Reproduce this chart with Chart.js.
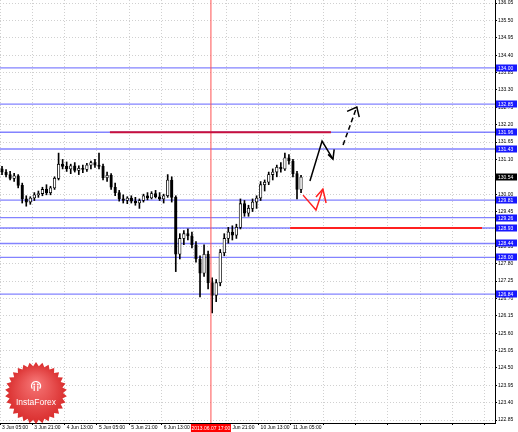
<!DOCTYPE html>
<html>
<head>
<meta charset="utf-8">
<script src="https://cdn.jsdelivr.net/npm/chart.js@4.4.1/dist/chart.umd.min.js"></script>
<style>
html, body { margin: 0; padding: 0; background: #fff; }
</style>
</head>
<body>
<canvas id="grafico" width="518" height="432"></canvas>
<script>
// velas (2h), 3 Jun -> 11 Jun
const abertura = [
  130.80, 130.70, 130.62, 130.50, 130.58, 130.28, 129.85, 129.75, 129.88, 129.98,
  130.02, 130.15, 130.05, 130.20, 130.50, 130.95, 130.88, 130.80, 130.90, 130.75,
  130.82, 130.78, 130.92, 131.00, 130.92, 130.88, 130.52, 130.60, 130.22, 130.05,
  129.85, 129.80, 129.88, 129.78, 129.72, 129.80, 129.95, 129.88, 130.02, 129.92,
  129.85, 129.95, 130.45, 129.90, 128.10, 128.60, 128.75, 128.68, 128.40, 127.95,
  127.50, 128.10, 127.20, 126.80, 127.20, 128.15, 128.60, 128.80, 128.70, 128.95,
  129.70, 129.40, 129.55, 129.75, 129.88, 130.30, 130.38, 130.62, 130.70, 130.85,
  130.80, 131.15, 131.05, 130.65, 130.15
];
const maxima = [
  130.88, 130.78, 130.72, 130.66, 130.62, 130.35, 129.95, 129.92, 130.05, 130.10,
  130.22, 130.30, 130.25, 130.55, 131.30, 131.10, 131.02, 130.95, 131.00, 130.90,
  130.92, 130.98, 131.05, 131.10, 131.30, 130.95, 130.70, 130.65, 130.35, 130.12,
  129.98, 129.92, 129.95, 129.90, 129.85, 130.00, 130.05, 130.08, 130.12, 130.05,
  130.00, 130.62, 130.55, 129.95, 128.75, 128.85, 128.90, 128.80, 128.50, 128.05,
  128.40, 128.20, 127.35, 127.30, 128.25, 128.75, 128.95, 129.00, 129.05, 129.85,
  129.80, 129.65, 129.85, 129.95, 130.40, 130.45, 130.70, 130.80, 130.92, 131.00,
  131.30, 131.25, 131.10, 130.72, 130.60
];
const minimas = [
  130.62, 130.55, 130.45, 130.40, 130.20, 129.72, 129.62, 129.68, 129.80, 129.90,
  129.95, 129.98, 129.98, 130.15, 130.45, 130.80, 130.72, 130.65, 130.70, 130.62,
  130.68, 130.72, 130.80, 130.85, 130.80, 130.45, 130.40, 130.15, 129.95, 129.78,
  129.72, 129.70, 129.72, 129.65, 129.55, 129.75, 129.82, 129.85, 129.88, 129.80,
  129.72, 129.90, 129.75, 127.55, 127.95, 128.40, 128.55, 128.30, 127.85, 126.75,
  127.40, 127.00, 126.24, 126.60, 127.10, 128.05, 128.45, 128.55, 128.60, 128.90,
  129.30, 129.30, 129.45, 129.55, 129.80, 130.10, 130.30, 130.45, 130.55, 130.70,
  130.75, 130.95, 130.55, 129.85, 130.05
];
const fechamento = [
  130.70, 130.62, 130.50, 130.58, 130.28, 129.85, 129.75, 129.88, 129.98, 130.02,
  130.15, 130.05, 130.20, 130.50, 130.95, 130.88, 130.80, 130.90, 130.75, 130.82,
  130.78, 130.92, 131.00, 130.92, 130.88, 130.52, 130.60, 130.22, 130.05, 129.85,
  129.80, 129.88, 129.78, 129.72, 129.80, 129.95, 129.88, 130.02, 129.92, 129.85,
  129.95, 130.45, 129.90, 128.10, 128.60, 128.75, 128.68, 128.40, 127.95, 127.50,
  128.10, 127.20, 126.80, 127.20, 128.15, 128.60, 128.80, 128.70, 128.95, 129.70,
  129.40, 129.55, 129.75, 129.88, 130.30, 130.38, 130.62, 130.70, 130.85, 130.80,
  131.15, 131.05, 130.65, 130.15, 130.54
];

const rotulosTempo = ['3 Jun 05:00', '3 Jun 21:00', '4 Jun 13:00', '5 Jun 05:00', '5 Jun 21:00',
  '6 Jun 13:00', '7 Jun 05:00', '7 Jun 21:00', '10 Jun 13:00', '11 Jun 05:00'];
const posTempo = [-0.5, 7.5, 15.5, 23.5, 31.5, 39.5, 47.5, 55.5, 63.5, 71.5, 79.5, 87.5, 95.5, 103.5, 111.5, 119.5];
const ticksPreco = [122.85, 123.40, 123.95, 124.50, 125.05, 125.60, 126.15, 126.70, 127.25, 127.80,
  128.35, 128.90, 129.45, 130.00, 130.55, 131.10, 131.65, 132.20, 132.75, 133.30,
  133.85, 134.40, 134.95, 135.50, 136.05];

const niveis = [134.00, 132.85, 131.96, 131.43, 129.81, 129.26, 128.93, 128.44, 128.00, 126.84];
const precoAtual = 130.54;
const marcaX = 51.7;
const marcaTexto = '2013.06.07 17:00';

// linhas e setas desenhadas no grafico
const linhaResist = [{x: 26.7, y: 131.96}, {x: 81.4, y: 131.96}];
const linhaSuporte = [{x: 71.3, y: 128.93}, {x: 118.8, y: 128.93}];
const setaPreta = [{x: 76.2, y: 130.42}, {x: 79.2, y: 131.68}, {x: 81.9, y: 131.11}];
const setaPretaPonta = [{x: 80.7, y: 131.26}, {x: 81.9, y: 131.11}, {x: 82.2, y: 131.42}];
const setaTracejada = [{x: 84.4, y: 131.56}, {x: 87.8, y: 132.76}];
const setaTracejadaPonta = [{x: 85.4, y: 132.62}, {x: 87.8, y: 132.76}, {x: 88.4, y: 132.44}];
const setaVermelha = [{x: 74.5, y: 129.97}, {x: 77.7, y: 129.50}, {x: 79.4, y: 130.16}];
const setaVermelhaPonta = [{x: 77.7, y: 129.91}, {x: 79.4, y: 130.16}, {x: 80.2, y: 129.72}];

const fonte = {family: 'Liberation Sans', size: 5};

const pavios = abertura.map((o, i) => ({x: i, y: [minimas[i], maxima[i]]}));
const corpos = abertura.map((o, i) => ({x: i, y: [Math.min(o, fechamento[i]), Math.max(o, fechamento[i])]}));
const coresCorpo = abertura.map((o, i) => fechamento[i] >= o ? '#ffffff' : '#000000');

function linha(dados, cor, largura, tracejado) {
  return {
    type: 'line', data: dados, borderColor: cor, borderWidth: largura,
    borderDash: tracejado || [], pointRadius: 0, tension: 0, fill: false, order: -1
  };
}

const dsNiveis = niveis.map(v => linha([{x: -0.5, y: v}, {x: 122, y: v}], 'rgba(90,90,255,0.75)', 1.3));
dsNiveis.forEach(d => d.order = 5);

// plugin: caixas de preco, rotulo da data e logo
const extras = {
  id: 'extras',
  afterDraw(chart) {
    const ctx = chart.ctx;
    const ys = chart.scales.y, xs = chart.scales.x;
    const area = chart.chartArea;
    ctx.save();
    ctx.font = '5px "Liberation Sans"';
    ctx.textBaseline = 'middle';
    ctx.textAlign = 'left';
    const caixa = (v, cor) => {
      const py = Math.round(ys.getPixelForValue(v));
      ctx.fillStyle = cor;
      ctx.fillRect(area.right + 1, py - 3.5, 21, 7);
      ctx.fillStyle = '#fff';
      ctx.fillText(v.toFixed(2), area.right + 3, py + 0.5);
    };
    niveis.forEach(v => caixa(v, '#1818ff'));
    caixa(precoAtual, '#000');

    // data do marcador
    const mx = xs.getPixelForValue(marcaX);
    ctx.fillStyle = '#ff0000';
    ctx.fillRect(mx - 20, area.bottom + 1, 40, 8);
    ctx.fillStyle = '#fff';
    ctx.textAlign = 'center';
    ctx.fillText(marcaTexto, mx, area.bottom + 5.5);

    // logo
    const cx = 36, cy = 393, pontas = 30;
    ctx.beginPath();
    for (let k = 0; k < pontas * 2; k++) {
      const r = k % 2 ? 27 : 31;
      const a = k * Math.PI / pontas - Math.PI / 2;
      const px = cx + r * Math.cos(a), py = cy + r * Math.sin(a);
      if (k === 0) ctx.moveTo(px, py); else ctx.lineTo(px, py);
    }
    ctx.closePath();
    const g = ctx.createRadialGradient(cx, cy - 10, 3, cx, cy, 31);
    g.addColorStop(0, '#f47070');
    g.addColorStop(1, '#d92c2c');
    ctx.fillStyle = g;
    ctx.fill();
    ctx.fillStyle = '#fff';
    ctx.font = '8.5px "Liberation Sans"';
    ctx.textAlign = 'center';
    ctx.textBaseline = 'alphabetic';
    ctx.fillText('InstaForex', cx, cy + 12);
    // icone
    ctx.strokeStyle = '#fff';
    ctx.lineWidth = 1.2;
    ctx.beginPath();
    ctx.arc(cx, cy - 7, 4.5, Math.PI * 0.8, Math.PI * 2.2);
    ctx.stroke();
    ctx.beginPath();
    ctx.moveTo(cx - 1.8, cy - 7); ctx.lineTo(cx - 1.8, cy - 2);
    ctx.moveTo(cx + 1.8, cy - 7); ctx.lineTo(cx + 1.8, cy - 2);
    ctx.stroke();
    ctx.beginPath();
    ctx.arc(cx - 1.8, cy - 8.5, 1, 0, Math.PI * 2);
    ctx.arc(cx + 1.8, cy - 8.5, 1, 0, Math.PI * 2);
    ctx.fill();
    ctx.restore();
  }
};

new Chart(document.getElementById('grafico'), {
  type: 'bar',
  data: {
    datasets: [
      {data: corpos, backgroundColor: coresCorpo, borderColor: '#000', borderWidth: 0.8,
        borderSkipped: false, barThickness: 2.6, grouped: false, order: 0},
      {data: pavios, backgroundColor: '#000', borderWidth: 0, barThickness: 1, grouped: false, order: 1},
      linha(linhaResist, '#c8103c', 2),
      linha(linhaSuporte, '#ff2020', 2),
      linha(setaPreta, '#000', 1.5),
      linha(setaPretaPonta, '#000', 1.5),
      linha(setaTracejada, '#000', 1.5, [5, 3]),
      linha(setaTracejadaPonta, '#000', 1.5),
      linha(setaVermelha, '#ff2020', 1.5),
      linha(setaVermelhaPonta, '#ff2020', 1.5),
      linha([{x: marcaX, y: 122.7}, {x: marcaX, y: 136.2}], '#ff5050', 1),
      ...dsNiveis
    ]
  },
  options: {
    responsive: false,
    animation: false,
    layout: {padding: 0},
    plugins: {legend: {display: false}, tooltip: {enabled: false}},
    scales: {
      x: {
        type: 'linear', min: -0.5, max: 122, offset: false,
        afterBuildTicks: s => { s.ticks = posTempo.map(v => ({value: v})); },
        afterFit: s => { s.height = 9; s.paddingLeft = 0; s.paddingRight = 0; },
        ticks: {
          font: fonte, color: '#000', align: 'start', padding: 0, labelOffset: 2,
          maxRotation: 0, autoSkip: false,
          callback: (v, i) => rotulosTempo[i] || ''
        },
        grid: {offset: false, color: '#d0d0d0', tickColor: '#000', tickLength: 2},
        border: {color: '#000', dash: [1, 2]}
      },
      y: {
        position: 'right', min: 122.759, max: 136.145,
        afterBuildTicks: s => { s.ticks = ticksPreco.map(v => ({value: v})); },
        afterFit: s => { s.width = 23; s.paddingTop = 0; s.paddingBottom = 0; },
        ticks: {font: fonte, color: '#000', padding: 1, autoSkip: false, callback: v => v.toFixed(2)},
        grid: {color: '#d0d0d0', tickColor: '#000', tickLength: 2},
        border: {color: '#000', dash: [1, 2]}
      }
    }
  },
  plugins: [extras]
});
</script>
</body>
</html>
